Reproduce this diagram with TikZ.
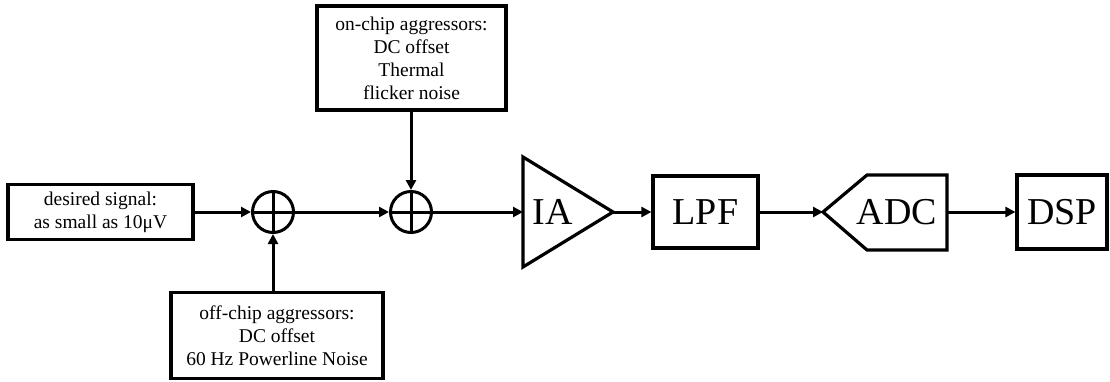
\documentclass[tikz,border=0pt]{standalone}
\usepackage{fontspec}
\setmainfont{Liberation Serif}
\usetikzlibrary{arrows.meta}
\begin{document}
\begin{tikzpicture}[x=1pt,y=-1pt,
  box/.style={draw,line width=3.2pt,inner sep=0pt,align=center,font=\fontsize{19.5}{23}\selectfont},
  bigbox/.style={draw,line width=3.2pt,inner sep=0pt,font=\fontsize{38}{40}\selectfont},
  bigtxt/.style={inner sep=0pt,font=\fontsize{38}{40}\selectfont},
  shapeline/.style={line width=3.2pt,line join=miter},
  sumnode/.style={draw,circle,line width=3pt,minimum size=41pt,inner sep=0pt},
  conn/.style={line width=3pt,-{Triangle[length=10pt,width=10pt]}},
]
\useasboundingbox (0,0) rectangle (1110,381);

% source boxes
\node[box,minimum width=185pt,minimum height=55pt] (des) at (100.5,212) {desired signal:\\as small as 10μV};
\node[box,minimum width=212pt,minimum height=86pt] (off) at (277,335.5) {off-chip aggressors:\\DC offset\\60 Hz Powerline Noise};
\node[box,minimum width=189pt,minimum height=104pt] (on) at (411.5,58) {on-chip aggressors:\\DC offset\\Thermal\\flicker noise};

% summing junctions
\node[sumnode] (s1) at (273,212) {};
\node[sumnode] (s2) at (411,212) {};
\draw[line width=3pt] (s1.north) -- (s1.south) (s1.west) -- (s1.east);
\draw[line width=3pt] (s2.north) -- (s2.south) (s2.west) -- (s2.east);

% IA triangle
\coordinate (iain) at (523,212);
\coordinate (iaout) at (613,212);
\draw[shapeline] (523,157) -- (iaout) -- (523,267) -- cycle;
\node[bigtxt] (ia) at (553,212) {IA};

% LPF
\node[bigbox,minimum width=105pt,minimum height=72pt] (lpf) at (705.5,212) {LPF};

% ADC
\coordinate (adcin) at (823,212);
\coordinate (adcout) at (947,212);
\draw[shapeline] (adcin) -- (867,175) -- (947,175) -- (947,250) -- (867,250) -- cycle;
\node[bigtxt] (adc) at (897,212) {ADC};

% DSP
\node[bigbox,minimum width=90pt,minimum height=74pt] (dsp) at (1062,212) {DSP};

% connectors
\draw[conn] (des.east) -- (s1.west);
\draw[conn] (s1.east) -- (s2.west);
\draw[conn] (off.north -| s1) -- (s1.south);
\draw[conn] (on.south -| s2) -- (s2.north);
\draw[conn] (s2.east) -- (iain);
\draw[conn] (iaout) -- (lpf.west);
\draw[conn] (lpf.east) -- (adcin);
\draw[conn] (adcout) -- (dsp.west);
\end{tikzpicture}
\end{document}
